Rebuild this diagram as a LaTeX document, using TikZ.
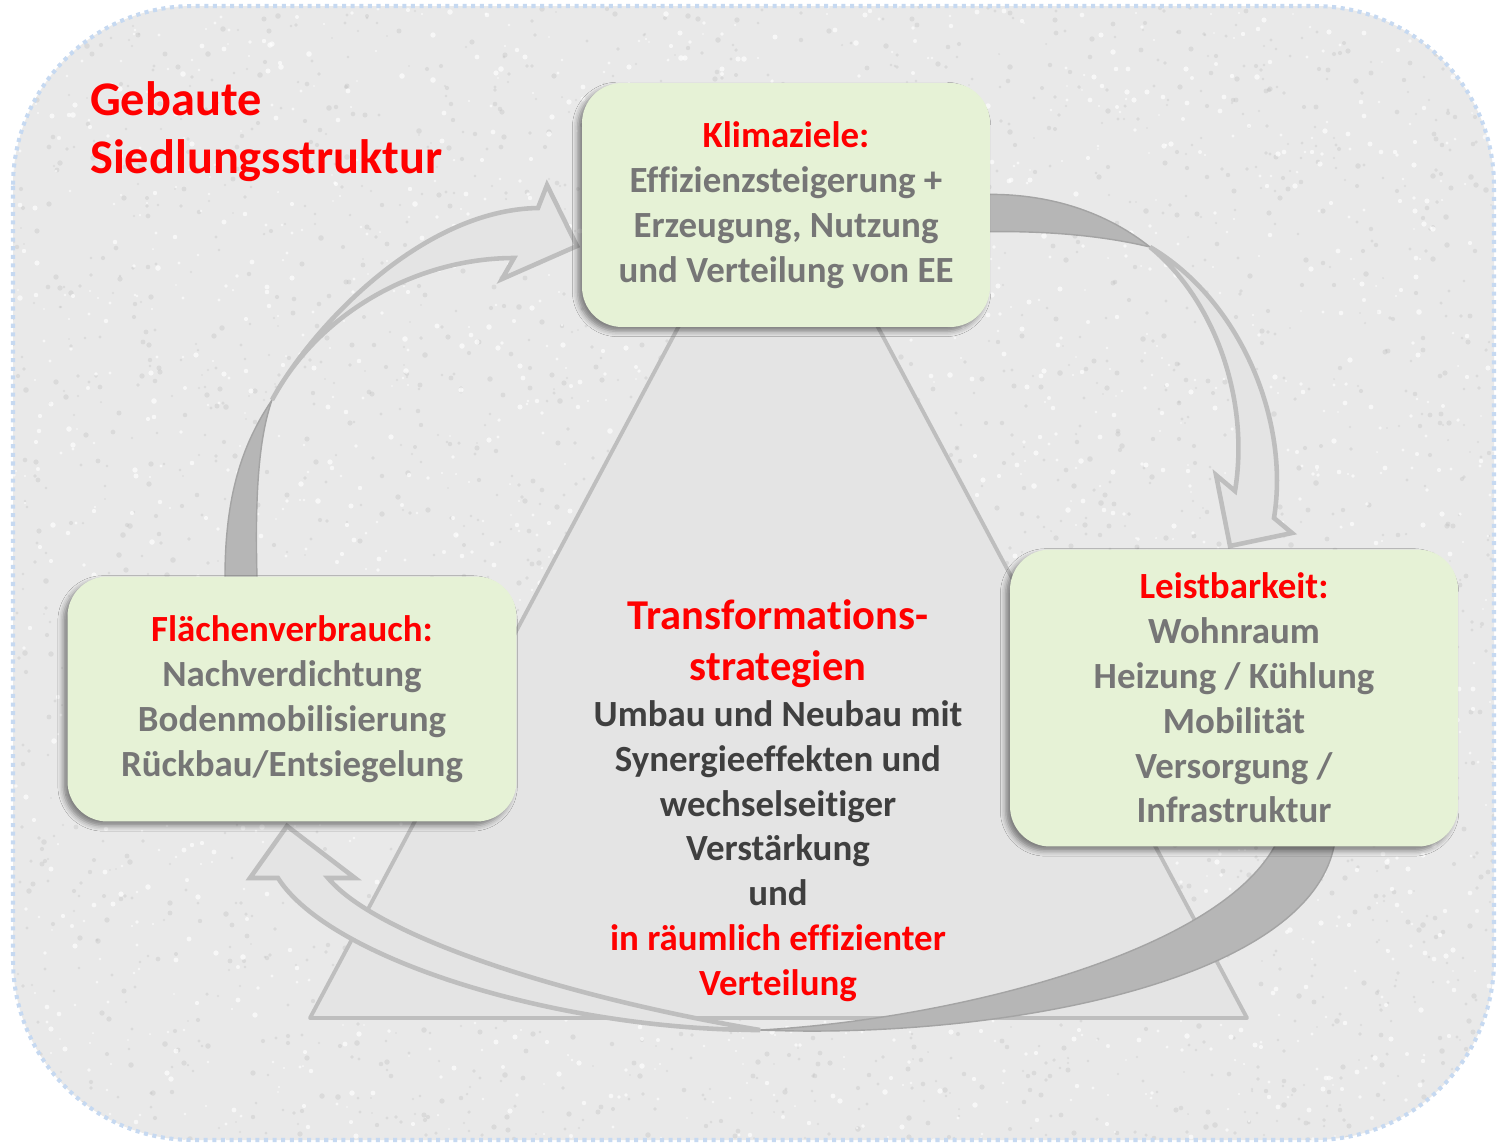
\documentclass[tikz,border=0pt]{standalone}
\usepackage{fontspec}
\setmainfont[Ligatures=NoCommon]{Carlito}
\usetikzlibrary{shadows.blur}
\definecolor{stonebg}{HTML}{E9E9E9}
\definecolor{rimblue}{HTML}{C6D9F1}
\definecolor{boxgreen}{HTML}{E6F2D6}
\definecolor{arrowfill}{HTML}{E4E4E4}
\definecolor{arrowline}{HTML}{BEBEBE}
\definecolor{backgray}{HTML}{B6B6B6}
\definecolor{textgray}{HTML}{767676}
\definecolor{textdark}{HTML}{3F3F3F}
\tikzstyle{topicbox}=[rounded corners=0.8cm, fill=boxgreen, align=center, inner sep=0pt,
  font=\bfseries\fontsize{21}{25.5}\selectfont, text=textgray,
  blur shadow={shadow xshift=-2.5pt, shadow yshift=-2.5pt, shadow blur radius=3pt, shadow opacity=45}]
\tikzstyle{tri}=[fill=arrowfill, draw=arrowline, line width=2.2pt, line join=round]
\tikzstyle{frontarrow}=[fill=arrowfill, draw=arrowline, line width=2.6pt, line join=miter]
\tikzstyle{backarrow}=[fill=backgray, draw=backgray!90!black, line width=0.8pt]
\tikzstyle{speckdark}=[fill=gray!50, opacity=0.35]
\tikzstyle{specklight}=[fill=white, opacity=0.65]

\begin{document}
\begin{tikzpicture}[x=0.02cm,y=-0.02cm]
  \useasboundingbox (0,0) rectangle (1498,1147);
  % stone plate with speckles
  \path[fill=stonebg, rounded corners=3.6cm] (13,6) rectangle (1494,1140);
  \begin{scope}
    \clip[rounded corners=3.6cm] (13,6) rectangle (1494,1140);
    \pgfmathsetseed{17}
    \foreach \i in {1,...,3000}{
      \pgfmathsetmacro{\px}{random(0,1498)}
      \pgfmathsetmacro{\py}{random(0,1147)}
      \pgfmathsetmacro{\pr}{0.5+1.1*rnd}
      \fill[speckdark] (\px,\py) circle (\pr pt);
    }
    \foreach \i in {1,...,2200}{
      \pgfmathsetmacro{\px}{random(0,1498)}
      \pgfmathsetmacro{\py}{random(0,1147)}
      \pgfmathsetmacro{\pr}{0.5+1.1*rnd}
      \fill[specklight] (\px,\py) circle (\pr pt);
    }
  \end{scope}
  \draw[rimblue, line width=2.3pt, dash pattern=on 2.3pt off 2.6pt, rounded corners=3.6cm]
    (13,6) rectangle (1494,1140);

  % triangle behind everything
  \draw[tri] (778,140) -- (310,1018) -- (1247,1018) -- cycle;

  % curved arrow: Flaechen -> Klima
  \draw[backarrow] (225,600) -- (225,577) .. controls (225,490) and (245,440) .. (272,400)
    .. controls (258,440) and (255,500) .. (257,577) -- (257,600) -- cycle;
  \draw[frontarrow] (272,400) .. controls (310,330) and (420,210) .. (538,208) -- (547,185)
    -- (577,246) -- (502,279) -- (514,258) .. controls (420,258) and (320,310) .. (272,400) -- cycle;

  % curved arrow: Klima -> Leist
  \draw[backarrow] (970,195) .. controls (1050,190) and (1110,215) .. (1150,247)
    .. controls (1100,235) and (1040,230) .. (970,232) -- cycle;
  \draw[frontarrow] (1150,247) .. controls (1240,300) and (1290,420) .. (1274,518) -- (1292,533)
    -- (1230,546) -- (1216,475) -- (1235,491) .. controls (1250,400) and (1215,300) .. (1150,247) -- cycle;

  % curved arrow: Leist -> Flaechen
  \draw[backarrow] (1336,830) .. controls (1330,980) and (1000,1040) .. (760,1030)
    .. controls (950,1020) and (1240,950) .. (1282,830) -- cycle;
  \draw[frontarrow] (760,1030) .. controls (560,1030) and (330,960) .. (278,878) -- (250,878)
    -- (287,826) -- (355,878) -- (328,878) .. controls (380,940) and (580,1000) .. (760,1030) -- cycle;

  % topic boxes
  \node[topicbox, minimum width=8.16cm, minimum height=4.88cm] (klima) at (786,205)
    {{\color{red}Klimaziele:}\\Effizienzsteigerung +\\Erzeugung, Nutzung\\und Verteilung von EE};
  \node[topicbox, minimum width=8.96cm, minimum height=5.94cm] (leist) at (1234,698)
    {{\color{red}Leistbarkeit:}\\Wohnraum\\Heizung / Kühlung\\Mobilität\\Versorgung /\\Infrastruktur};
  \node[topicbox, minimum width=8.98cm, minimum height=4.9cm] (flaeche) at (292,699)
    {{\color{red}Flächenverbrauch:}\\Nachverdichtung\\Bodenmobilisierung\\Rückbau/Entsiegelung};

  % centre of the triangle
  \node[align=center, text=red, font=\bfseries\fontsize{24.2}{29}\selectfont] (trafo) at (778,644)
    {Transformations-\\strategien};
  \node[align=center, text=textdark, font=\bfseries\fontsize{21}{25.5}\selectfont] (trafotext) at (778,851)
    {Umbau und Neubau mit\\Synergieeffekten und\\wechselseitiger\\Verstärkung\\und\\
     {\color{red}in räumlich effizienter}\\{\color{red}Verteilung}};

  % title
  \node[anchor=base west, align=left, text=red, font=\bfseries\fontsize{27.5}{33}\selectfont] (titel) at (84,173)
    {Gebaute\\Siedlungsstruktur};
\end{tikzpicture}
\end{document}
